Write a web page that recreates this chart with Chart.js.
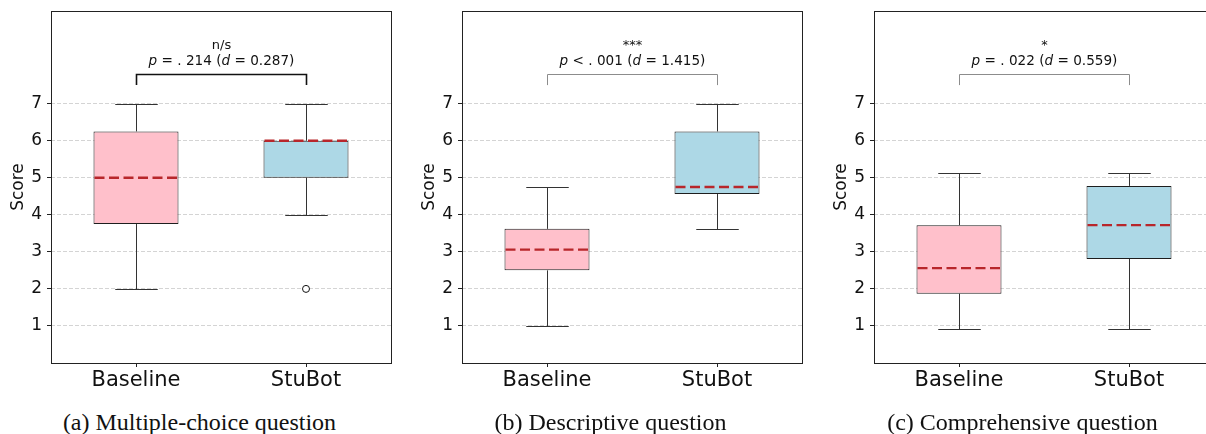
<!DOCTYPE html>
<html>
<head>
<meta charset="utf-8">
<script src="https://cdn.jsdelivr.net/npm/chart.js@4.4.1/dist/chart.umd.min.js"></script>
<style>
  html, body { margin: 0; padding: 0; background: #fff; overflow: hidden; }
  #wrap { position: relative; width: 1206px; height: 434px; overflow: hidden; }
  .panel { position: absolute; top: 0; width: 412px; height: 434px; }
  .panel canvas { position: absolute; left: 0; top: 0; }
  .caption {
    position: absolute; left: 0; top: 410px; width: 399px; text-align: center;
    font-family: "Liberation Serif", "Times New Roman", serif; font-size: 24px;
    line-height: 24px; color: #111; white-space: nowrap;
  }
</style>
</head>
<body>
<div id="wrap"></div>
<script>
const categories = ["Baseline", "StuBot"];
const captions = ["(a) Multiple-choice question", "(b) Descriptive question", "(c) Comprehensive question"];
const yTicks = [1, 2, 3, 4, 5, 6, 7];

// box statistics, one value per category (Baseline, StuBot)
const mcqLow = [2, 4];
const mcqQ1 = [3.75, 5];
const mcqMedian = [5, 6];
const mcqQ3 = [6.25, 6];
const mcqHigh = [7, 7];
const mcqOutliers = [[], [2]];

const descLow = [1, 3.62];
const descQ1 = [2.5, 4.56];
const descMedian = [3.06, 4.75];
const descQ3 = [3.62, 6.25];
const descHigh = [4.75, 7];
const descOutliers = [[], []];

const compLow = [0.93, 0.93];
const compQ1 = [1.87, 2.81];
const compMedian = [2.56, 3.72];
const compQ3 = [3.72, 4.78];
const compHigh = [5.13, 5.13];
const compOutliers = [[], []];

// significance annotations
const sigLabels = ["n/s", "***", "*"];
const pTexts = [" = . 214 (", " < . 001 (", " = . 022 ("];
const dTexts = [" = 0.287)", " = 1.415)", " = 0.559)"];
const bracketTop = 7.8;
const bracketFoot = 7.5;

const panels = [
    { low: mcqLow, q1: mcqQ1, med: mcqMedian, q3: mcqQ3, high: mcqHigh, out: mcqOutliers },
    { low: descLow, q1: descQ1, med: descMedian, q3: descQ3, high: descHigh, out: descOutliers },
    { low: compLow, q1: compQ1, med: compMedian, q3: compQ3, high: compHigh, out: compOutliers }
];
const bracketStyles = [
    { color: "#111", width: 1.6 },
    { color: "#8c8c8c", width: 1 },
    { color: "#8c8c8c", width: 1 }
];

const crisp = v => Math.round(v) + 0.5;

function line(ctx, x1, y1, x2, y2) {
    ctx.beginPath();
    ctx.moveTo(x1, y1);
    ctx.lineTo(x2, y2);
    ctx.stroke();
}

// draws text pieces, some italic (like matplotlib mathtext), centred on cx
function drawRich(ctx, parts, cx, y, size) {
    const fonts = parts.map(p => (p.it ? "italic " : "") + size + 'px "DejaVu Sans"');
    const widths = parts.map((p, k) => { ctx.font = fonts[k]; return ctx.measureText(p.t).width; });
    let xx = cx - widths.reduce((a, b) => a + b, 0) / 2;
    ctx.textAlign = "left";
    parts.forEach((p, k) => {
        ctx.font = fonts[k];
        ctx.fillText(p.t, xx, y);
        xx += widths[k];
    });
}

const boxExtras = {
    id: "boxExtras",
    afterDatasetsDraw(chart) {
        const o = chart.options.plugins.boxExtras;
        const st = panels[o.index];
        const y = chart.scales.y;
        const ctx = chart.ctx;
        const bars = chart.getDatasetMeta(0).data;
        ctx.save();
        bars.forEach((bar, i) => {
            const cx = crisp(bar.x);
            const half = bar.width / 2;
            const yLow = crisp(y.getPixelForValue(st.low[i]));
            const yHigh = crisp(y.getPixelForValue(st.high[i]));
            const yQ1 = y.getPixelForValue(st.q1[i]);
            const yQ3 = y.getPixelForValue(st.q3[i]);

            // whiskers + caps
            ctx.strokeStyle = "#333";
            ctx.lineWidth = 1;
            ctx.setLineDash([]);
            line(ctx, cx, yQ1, cx, yLow);
            line(ctx, cx, yQ3, cx, yHigh);
            line(ctx, cx - half / 2, yLow, cx + half / 2, yLow);
            line(ctx, cx - half / 2, yHigh, cx + half / 2, yHigh);

            // median, dashed red
            const yMed = y.getPixelForValue(st.med[i]);
            ctx.strokeStyle = "#b8262b";
            ctx.lineWidth = 2.4;
            ctx.setLineDash([10, 4.5]);
            line(ctx, bar.x - half + 1, yMed, bar.x + half - 1, yMed);

            // outliers
            ctx.setLineDash([]);
            ctx.lineWidth = 1;
            ctx.strokeStyle = "#111";
            ctx.fillStyle = "#fff";
            st.out[i].forEach(v => {
                ctx.beginPath();
                ctx.arc(bar.x, y.getPixelForValue(v), 3.5, 0, Math.PI * 2);
                ctx.fill();
                ctx.stroke();
            });
        });

        // significance bracket
        const bs = bracketStyles[o.index];
        const xa = crisp(bars[0].x), xb = crisp(bars[1].x);
        const yt = crisp(y.getPixelForValue(bracketTop));
        const yf = y.getPixelForValue(bracketFoot);
        ctx.strokeStyle = bs.color;
        ctx.lineWidth = bs.width;
        ctx.beginPath();
        ctx.moveTo(xa, yf);
        ctx.lineTo(xa, yt);
        ctx.lineTo(xb, yt);
        ctx.lineTo(xb, yf);
        ctx.stroke();

        const mid = (xa + xb) / 2;
        ctx.fillStyle = "#111";
        ctx.textBaseline = "alphabetic";
        ctx.textAlign = "center";
        ctx.font = '13px "DejaVu Sans"';
        ctx.fillText(sigLabels[o.index], mid, yt - 25.5);
        drawRich(ctx, [
            { t: "p", it: true },
            { t: pTexts[o.index] },
            { t: "d", it: true },
            { t: dTexts[o.index] }
        ], mid, yt - 10, 13.6);
        ctx.restore();
    },
    afterDraw(chart) {
        // full frame around the plot area
        const a = chart.chartArea;
        const ctx = chart.ctx;
        ctx.save();
        ctx.strokeStyle = "#222";
        ctx.lineWidth = 1;
        ctx.strokeRect(crisp(a.left), crisp(a.top), Math.round(a.right - a.left), Math.round(a.bottom - a.top));
        ctx.restore();
    }
};

const wrap = document.getElementById("wrap");
const offsets = [0, 411, 823];

panels.forEach((st, k) => {
    const panel = document.createElement("div");
    panel.className = "panel";
    panel.style.left = offsets[k] + "px";
    const canvas = document.createElement("canvas");
    canvas.width = 412;
    canvas.height = 400;
    panel.appendChild(canvas);
    const cap = document.createElement("div");
    cap.className = "caption";
    cap.textContent = captions[k];
    panel.appendChild(cap);
    wrap.appendChild(panel);

    new Chart(canvas, {
        type: "bar",
        data: {
            labels: categories,
            datasets: [{
                data: st.q1.map((v, i) => [v, st.q3[i]]),
                backgroundColor: ["#ffc0cb", "#add8e6"],
                borderColor: "#1e1e1e",
                borderWidth: 1,
                borderSkipped: false,
                barPercentage: 0.5,
                categoryPercentage: 1
            }]
        },
        options: {
            responsive: false,
            animation: false,
            events: [],
            layout: { padding: { left: 0, top: 11, right: 21, bottom: 0 } },
            plugins: {
                legend: { display: false },
                tooltip: { enabled: false },
                boxExtras: { index: k }
            },
            scales: {
                x: {
                    offset: true,
                    grid: { display: true, drawOnChartArea: false, offset: false, tickLength: 4, tickColor: "#222" },
                    border: { display: false },
                    ticks: { font: { family: "DejaVu Sans", size: 21 }, color: "#111", padding: 1 },
                    afterFit: s => { s.height = 37; s.paddingLeft = 0; s.paddingRight = 0; }
                },
                y: {
                    min: 0,
                    max: 9.5,
                    afterBuildTicks: s => { s.ticks = yTicks.map(v => ({ value: v })); },
                    grid: { color: "#d4d4d4", tickColor: "#222", tickLength: 4, tickBorderDash: [] },
                    border: { display: false, dash: [4, 2] },
                    ticks: { font: { family: "DejaVu Sans", size: 17 }, color: "#111", padding: 5 },
                    title: {
                        display: true, text: "Score", color: "#111",
                        font: { family: "DejaVu Sans", size: 17 },
                        padding: { top: 8, bottom: 0 }
                    },
                    afterFit: s => { s.width = 51; s.paddingTop = 0; s.paddingBottom = 0; }
                }
            }
        },
        plugins: [boxExtras]
    });
});
</script>
</body>
</html>
